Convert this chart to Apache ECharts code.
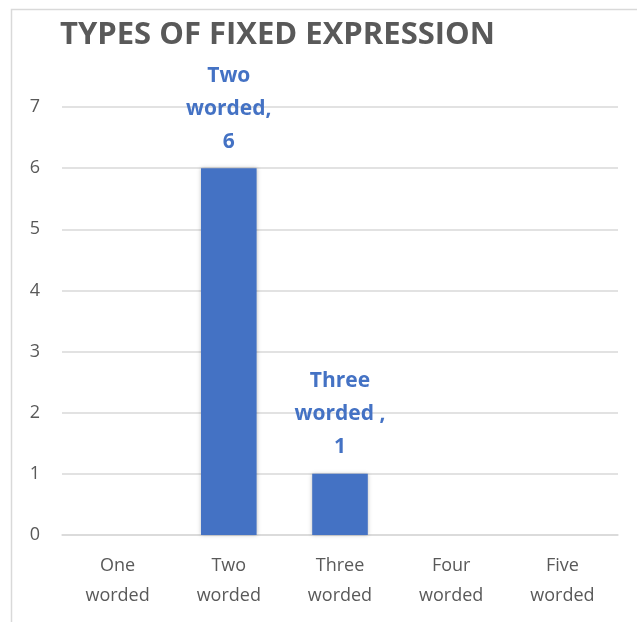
<!DOCTYPE html>
<html><head><meta charset="utf-8">
<script src="https://cdn.jsdelivr.net/npm/echarts@6/dist/echarts.min.js"></script>
<style>html,body{margin:0;padding:0;background:#fff}#c{width:637px;height:622px}</style>
</head><body><div id="c"></div>
<script>
var categories = ['One\nworded', 'Two\nworded', 'Three\nworded', 'Four\nworded', 'Five\nworded'];
var values = [0, 6, 1, 0, 0];
var labelNames = ['One\nworded,', 'Two\nworded,', 'Three\nworded ,', 'Four\nworded,', 'Five\nworded,'];
var yTicks = [0, 1, 2, 3, 4, 5, 6, 7];

var chart = echarts.init(document.getElementById('c'));
chart.setOption({
  animation: false,
  graphic: [{
    type: 'rect', left: 9, top: 7, shape: {width: 700, height: 700},
    style: {fill: 'none', stroke: '#d9d9d9', lineWidth: 1.5}, z: -1
  }],
  title: {
    text: 'TYPES OF FIXED EXPRESSION', left: 55, top: 15,
    textStyle: {fontFamily: 'Open Sans', fontWeight: 'bold', fontSize: 31, color: '#595959'}
  },
  grid: {left: 62, right: 19, top: 107, bottom: 87},
  xAxis: {
    type: 'category', data: categories,
    axisLine: {show: true, lineStyle: {color: '#d9d9d9', width: 1.5}},
    axisTick: {show: false},
    axisLabel: {fontFamily: 'Open Sans', fontSize: 18, color: '#595959', lineHeight: 30, margin: 16}
  },
  yAxis: {
    type: 'value', min: 0, max: 7, interval: 1,
    axisLine: {show: false}, axisTick: {show: false},
    splitLine: {lineStyle: {color: '#d9d9d9', width: 1.5}},
    axisLabel: {fontFamily: 'Open Sans', fontSize: 18, color: '#595959', margin: 22,
      formatter: function (v) { return yTicks.indexOf(v) >= 0 ? String(v) : ''; }}
  },
  series: [{
    type: 'bar', data: values, barWidth: '50%',
    itemStyle: {color: '#4472C4', shadowBlur: 4, shadowColor: 'rgba(0,0,0,0.25)'},
    label: {
      show: true, position: 'top', distance: 10,
      fontFamily: 'Open Sans', fontWeight: 'bold', fontSize: 21, color: '#4472C4', lineHeight: 33,
      formatter: function (p) { return p.value ? labelNames[p.dataIndex] + '\n' + p.value : ''; }
    }
  }]
});
</script></body></html>
